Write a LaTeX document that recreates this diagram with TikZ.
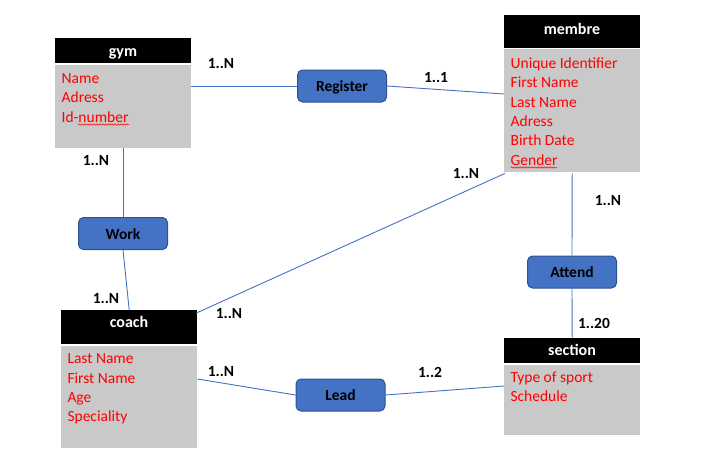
\documentclass[tikz,border=0pt]{standalone}
\usepackage{fontspec}
\setmainfont{Carlito}
\usetikzlibrary{calc,decorations.pathmorphing}
\definecolor{relblue}{HTML}{4472C4}
\definecolor{reldark}{HTML}{2F528F}
\definecolor{bodygray}{HTML}{C9C9C9}
\definecolor{attrred}{HTML}{FF0000}
\tikzset{
  hdr/.style={rectangle, fill=black, inner sep=0pt, anchor=north west, minimum width=136pt},
  title/.style={anchor=base, inner sep=0pt, text=white, font=\fontsize{16}{19}\selectfont\bfseries},
  body/.style={rectangle, fill=bodygray, inner sep=0pt, anchor=north west, minimum width=136pt},
  attr/.style={anchor=base west, inner sep=0pt, text=attrred, font=\fontsize{15.5}{19}\selectfont},
  rel/.style={rectangle, rounded corners=5pt, fill=relblue, draw=reldark, line width=1pt,
    minimum width=89pt, minimum height=32pt, inner sep=0pt, text height=11pt, text depth=0pt,
    font=\fontsize{15.5}{19}\selectfont\bfseries},
  card/.style={inner sep=0pt, font=\fontsize{15.5}{19}\selectfont\bfseries},
  conn/.style={draw=relblue, line width=0.9pt},
  spell/.style={draw=attrred, line width=0.5pt, decorate, decoration={snake, amplitude=0.7pt, segment length=3pt}}
}
\begin{document}
\begin{tikzpicture}[x=1pt,y=-1pt]
\useasboundingbox (0,0) rectangle (704,471);
% entities
\node[hdr, minimum height=25pt] (gym-h) at (55,38) {};
\node[title] (gym-t) at (123,56.7) {gym};
\node[body, minimum height=83pt] (gym) at (55,65) {};
\node[attr] (gym-a1) at (61.5,83) {Name};
\node[attr] (gym-a2) at (61.5,102.5) {Adress};
\node[attr] (gym-a3) at (61.5,122) {Id-number};

\node[hdr, minimum height=33pt] (membre-h) at (504,15) {};
\node[title] (membre-t) at (572,34) {membre};
\node[body, minimum height=123pt] (membre) at (504,49) {};
\node[attr] (membre-a1) at (510.5,68.3) {Unique Identifier};
\node[attr] (membre-a2) at (510.5,87.7) {First Name};
\node[attr] (membre-a3) at (510.5,107) {Last Name};
\node[attr] (membre-a4) at (510.5,126.5) {Adress};
\node[attr] (membre-a5) at (510.5,145.8) {Birth Date};
\node[attr] (membre-a6) at (510.5,165.2) {Gender};

\node[hdr, minimum height=34pt] (coach-h) at (61,310) {};
\node[title] (coach-t) at (129,327.3) {coach};
\node[body, minimum height=102pt] (coach) at (61,346) {};
\node[attr] (coach-a1) at (67.3,363.3) {Last Name};
\node[attr] (coach-a2) at (67.3,383) {First Name};
\node[attr] (coach-a3) at (67.3,402.3) {Age};
\node[attr] (coach-a4) at (67.3,421.7) {Speciality};

\node[hdr, minimum height=25pt] (section-h) at (504,338) {};
\node[title] (section-t) at (572,355.7) {section};
\node[body, minimum height=70pt] (section) at (504,365) {};
\node[attr] (section-a1) at (510.3,382.3) {Type of sport};
\node[attr] (section-a2) at (510.3,401.7) {Schedule};

% spell-check underlines
\draw[spell] (78,124.5) -- (129,124.5);
\draw[spell] (510.5,167.5) -- (557,167.5);

% relations
\node[rel] (reg) at (342,86) {Register};
\node[rel] (work) at (123,233.5) {Work};
\node[rel] (attend) at (572,272) {Attend};
\node[rel] (lead) at (340.5,395) {Lead};

% connectors
\draw[conn] (reg.west -| gym.east) -- (reg.west);
\draw[conn] (reg.east) -- ($(membre.north west)+(0,45)$);
\draw[conn] (gym.south -| work.north) -- (work.north);
\draw[conn] (work.south) -- (coach-h.north);
\draw[conn] ($(coach-h.north east)+(-1,3)$) -- ($(membre.south west)+(1,1)$);
\draw[conn] ($(membre.south)+(0,1)$) -- (attend.north);
\draw[conn] (attend.south) -- (section-h.north);
\draw[conn] ($(coach.north east)+(0,33)$) -- (lead.west);
\draw[conn] (lead.east) -- ($(section.north west)+(0,21)$);

% cardinalities
\node[card] (c1) at (221,64) {1..N};
\node[card] (c2) at (436,78) {1..1};
\node[card] (c3) at (96,161) {1..N};
\node[card] (c4) at (106,299) {1..N};
\node[card] (c5) at (229,314) {1..N};
\node[card] (c6) at (466,174) {1..N};
\node[card] (c7) at (608,201) {1..N};
\node[card] (c8) at (594,323) {1..20};
\node[card] (c9) at (221,372) {1..N};
\node[card] (c10) at (430,372) {1..2};
\end{tikzpicture}
\end{document}
